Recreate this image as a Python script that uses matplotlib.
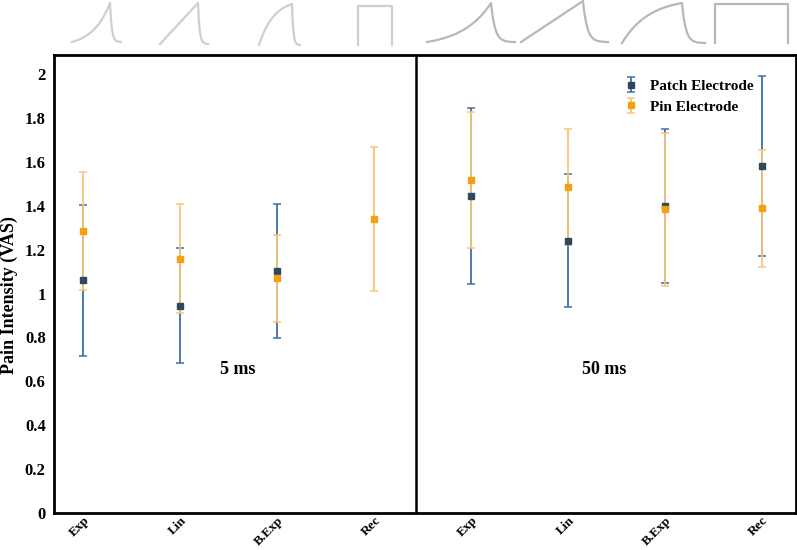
import numpy as np
import matplotlib
matplotlib.use("Agg")
import matplotlib.pyplot as plt

plt.rcParams['font.family'] = ['Liberation Serif', 'DejaVu Serif']
plt.rcParams['font.weight'] = 'bold'

# categories (5 ms block then 50 ms block)
shapes = ["Exp", "Lin", "B.Exp", "Rec", "Exp", "Lin", "B.Exp", "Rec"]

# mean VAS and error half-width
patch_mean = [1.061, 0.945, 1.103, np.nan, 1.444, 1.241, 1.400, 1.581]
patch_err = [0.344, 0.262, 0.304, np.nan, 0.400, 0.302, 0.350, 0.410]
pin_mean = [1.283, 1.159, 1.069, 1.339, 1.516, 1.485, 1.383, 1.388]
pin_err = [0.269, 0.247, 0.200, 0.328, 0.310, 0.264, 0.347, 0.265]

blue_line = "#3d6fa6"
blue_mark = "#2f4860"
orange_line = "#f9c676"
orange_mark = "#f5a010"

fig = plt.figure(figsize=(7.97, 5.5), dpi=100)
ax = fig.add_axes([54/797, 1 - 513/550, 742/797, 458/550])

x = np.arange(len(shapes))
ax.errorbar(x, patch_mean, yerr=patch_err, fmt='s', color=blue_line,
            mfc=blue_mark, mec=blue_mark, ms=4, elinewidth=1.3, capsize=3,
            capthick=1.1, label="Patch Electrode")
ax.errorbar(x, pin_mean, yerr=pin_err, fmt='s', color=orange_line,
            mfc=orange_mark, mec=orange_mark, ms=4, elinewidth=1.3, capsize=3,
            capthick=1.1, label="Pin Electrode")

ax.set_xlim(-0.3, 7.35)
ax.set_ylim(0, 2.087)
ax.set_yticks(np.arange(0, 2.01, 0.2))
ax.set_yticklabels(["0", "0.2", "0.4", "0.6", "0.8", "1", "1.2", "1.4", "1.6", "1.8", "2"],
                   fontsize=12, fontweight='bold')
ax.set_xticks(x)
ax.set_xticklabels(shapes, rotation=45, ha='right', rotation_mode='anchor',
                   fontsize=9.5, fontweight='bold')
ax.tick_params(axis='y', length=0, pad=6)
ax.tick_params(axis='x', length=0, pad=1)
ax.set_ylabel("Pain Intensity (VAS)", fontsize=13, fontweight='bold')
ax.yaxis.set_label_coords(-36/742, 0.476)

for s in ax.spines.values():
    s.set_linewidth(2)
    s.set_color('black')
ax.axvline(3.433, color='black', lw=1.8)

ax.text(1.59, 0.656, "5 ms", fontsize=13, fontweight='bold', ha='center', va='center')
ax.text(5.37, 0.656, "50 ms", fontsize=13, fontweight='bold', ha='center', va='center')

leg = ax.legend(loc='upper left', bbox_to_anchor=(0.762, 0.96), frameon=False,
                fontsize=11, handlelength=0.7, handletextpad=0.9,
                labelspacing=0.45, borderaxespad=0)

# pulse shape icons drawn above the panels (pixel boxes: left, right, top, bottom)
icons = [("exp", 72, 121, 3, 42, 110), ("lin", 160, 208, 3, 44, 198),
         ("bexp", 259, 300, 4, 45, 292), ("rec", 358, 392, 6, 45, 392),
         ("exp", 427, 515, 3, 42, 491), ("lin", 521, 608, 1, 42, 583),
         ("bexp", 622, 705, 3, 43, 682), ("rec", 715, 788, 4, 43, 788)]
iax = fig.add_axes([0, 1 - 55/550, 1, 55/550])
iax.set_xlim(0, 797)
iax.set_ylim(55, 0)
iax.axis('off')
for i, (kind, x0, x1, top, bot, xp) in enumerate(icons):
    col = "#cfcfcf" if i < 4 else "#b8b8b8"
    h = bot - top
    if kind == "rec":
        iax.plot([x0, x0, x1, x1], [bot, top, top, bot], color=col, lw=1.6)
        continue
    t = np.linspace(0, 1, 60)
    if kind == "exp":
        r = (np.exp(2.2*t) - 1) / (np.exp(2.2) - 1)
    elif kind == "lin":
        r = t
    else:
        r = (1 - np.exp(-2.2*t)) / (1 - np.exp(-2.2))
    d = np.exp(-6*t)
    xs = np.concatenate([x0 + t*(xp - x0), xp + t*(x1 - xp)])
    ys = np.concatenate([bot - r*h, bot - h*(d - d[-1])/(1 - d[-1])])
    iax.plot(xs, ys, color=col, lw=1.6)

fig.savefig("out.png", dpi=100)
